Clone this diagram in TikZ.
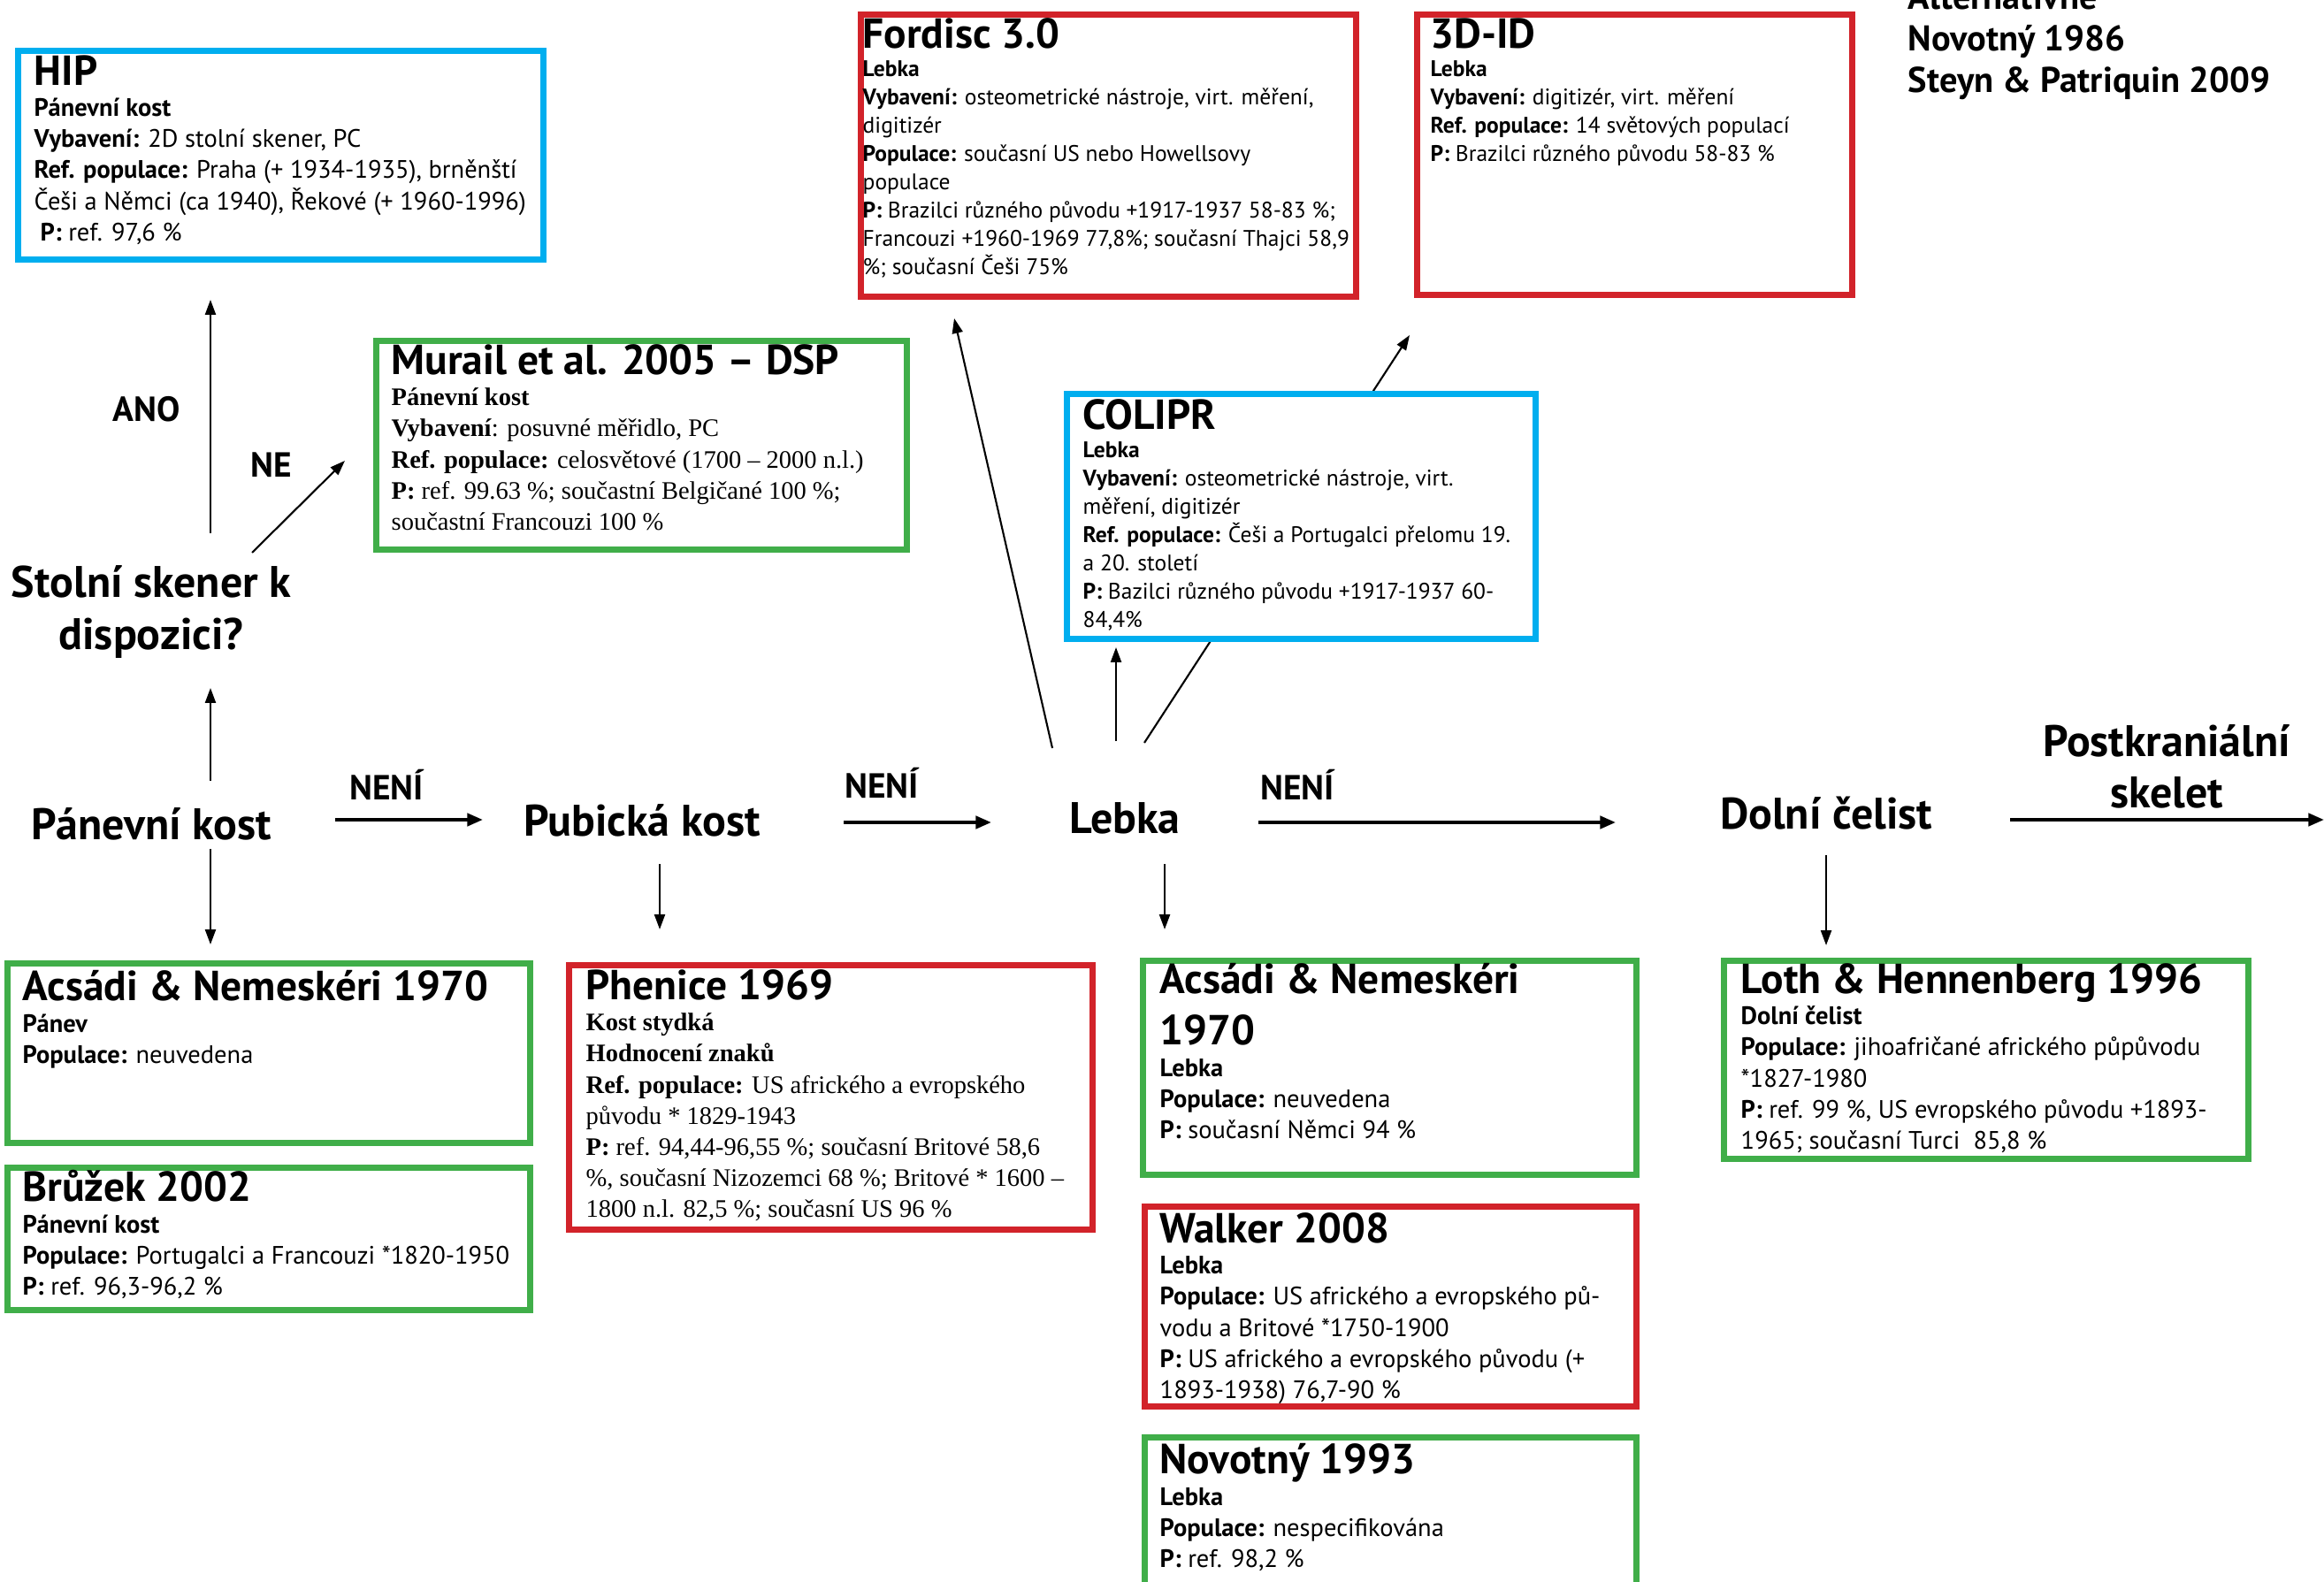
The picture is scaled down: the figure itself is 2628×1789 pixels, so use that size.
\documentclass[tikz,border=0pt]{standalone}
\usepackage{fontspec}
\setmainfont{PT Sans}
\newfontfamily\tms{Liberation Serif}
\usetikzlibrary{arrows.meta}

\definecolor{boxblue}{RGB}{0,174,239}
\definecolor{boxred}{RGB}{210,35,42}
\definecolor{boxgreen}{RGB}{64,174,73}

\newcommand{\ttl}{\normalfont\fontsize{13.5}{17}\selectfont\bfseries}
\newcommand{\bd}{\fontsize{8.1}{10}\selectfont}
\newcommand{\bds}{\fontsize{7.25}{9.1}\selectfont}
\newcommand{\bdt}{\tms\fontsize{8.1}{10}\selectfont}
\newcommand{\lbl}{\fontsize{14.2}{16.7}\selectfont\bfseries}
\newcommand{\yn}{\fontsize{11.2}{13}\selectfont\bfseries}

\tikzset{
  frame/.style={line width=2pt, fill=white, inner sep=0pt, anchor=north west},
  bluebox/.style={frame, draw=boxblue},
  redbox/.style={frame, draw=boxred},
  greenbox/.style={frame, draw=boxgreen},
  boxtext/.style={anchor=north west, inner sep=0pt, align=left, font=\bd},
  arr/.style={-{Triangle[length=4.8pt,width=3.4pt]}, line width=0.6pt},
  harr/.style={-{Triangle[length=5pt,width=4pt]}, line width=1.1pt},
}

\begin{document}
\begin{tikzpicture}[x=0.01cm,y=-0.01cm]
\useasboundingbox (0,0) rectangle (2628,1789);

% arrow ends
\coordinate (ano1) at (238,603); \coordinate (ano2) at (238,339);
\coordinate (ne1) at (285,625); \coordinate (ne2) at (390,521);
\coordinate (pu1) at (238,883); \coordinate (pu2) at (238,778);
\coordinate (pd1) at (238,960); \coordinate (pd2) at (238,1068);
\coordinate (h1) at (379,927); \coordinate (h2) at (546,927);
\coordinate (bd1) at (746,977); \coordinate (bd2) at (746,1051);
\coordinate (h3) at (954,930); \coordinate (h4) at (1121,930);
\coordinate (f1) at (1190,846); \coordinate (f2) at (1079,360);
\coordinate (c1) at (1262,838); \coordinate (c2) at (1262,732);
\coordinate (t1) at (1294,840); \coordinate (t2) at (1594,379);
\coordinate (ld1) at (1317,977); \coordinate (ld2) at (1317,1051);
\coordinate (h5) at (1423,930); \coordinate (h6) at (1827,930);
\coordinate (dd1) at (2065,967); \coordinate (dd2) at (2065,1069);
\coordinate (h7) at (2273,927); \coordinate (h8) at (2628,927);

\draw[arr] (ano1) -- (ano2);
\draw[arr] (ne1) -- (ne2);
\draw[arr] (pu1) -- (pu2);
\draw[arr] (pd1) -- (pd2);
\draw[arr] (bd1) -- (bd2);
\draw[arr] (f1) -- (f2);
\draw[arr] (c1) -- (c2);
\draw[arr] (t1) -- (t2);
\draw[arr] (ld1) -- (ld2);
\draw[arr] (dd1) -- (dd2);
\draw[harr] (h1) -- (h2);
\draw[harr] (h3) -- (h4);
\draw[harr] (h5) -- (h6);
\draw[harr] (h7) -- (h8);

% boxes
\node[bluebox, minimum width=5.94cm, minimum height=2.36cm] (hip) at (17,54) {};
\node[greenbox, minimum width=6.00cm, minimum height=2.36cm] (murail) at (422,382) {};
\node[redbox, minimum width=5.60cm, minimum height=3.19cm] (fordisc) at (970,13) {};
\node[redbox, minimum width=4.92cm, minimum height=3.17cm] (tdid) at (1599,13) {};
\node[bluebox, minimum width=5.30cm, minimum height=2.77cm] (colipr) at (1203,442) {};
\node[greenbox, minimum width=5.91cm, minimum height=2.03cm] (acsadiP) at (5,1086) {};
\node[greenbox, minimum width=5.91cm, minimum height=1.61cm] (bruzek) at (5,1317) {};
\node[redbox, minimum width=5.92cm, minimum height=2.99cm] (phenice) at (640,1088) {};
\node[greenbox, minimum width=5.58cm, minimum height=2.42cm] (acsadiL) at (1289,1083) {};
\node[redbox, minimum width=5.56cm, minimum height=2.26cm] (walker) at (1291,1361) {};
\node[greenbox, minimum width=5.56cm, minimum height=1.90cm] (novotny) at (1291,1622) {};
\node[greenbox, minimum width=5.93cm, minimum height=2.24cm] (loth) at (1946,1083) {};

% box texts
\node[boxtext] (hipT) at (38,62) {{\ttl HIP}\\
\textbf{Pánevní kost}\\
\textbf{Vybavení:} 2D stolní skener, PC\\
\textbf{Ref. populace:} Praha (+ 1934-1935), brněnští\\
Češi a Němci (ca 1940), Řekové (+ 1960-1996)\\
\hspace{2pt}\textbf{P:} ref. 97,6 \%};
\node[boxtext, font=\bdt] (murailT) at (442,389) {{\ttl Murail et al. 2005 – DSP}\\
\textbf{Pánevní kost}\\
\textbf{Vybavení}: posuvné měřidlo, PC\\
\textbf{Ref. populace:} celosvětové (1700 – 2000 n.l.)\\
\textbf{P:} ref. 99.63 \%; součastní Belgičané 100 \%;\\
součastní Francouzi 100 \%};
\node[boxtext, font=\bds] (fordiscT) at (975,20) {{\ttl Fordisc 3.0}\\
\textbf{Lebka}\\
\textbf{Vybavení:} osteometrické nástroje, virt. měření,\\
digitizér\\
\textbf{Populace:} současní US nebo Howellsovy\\
populace\\
\textbf{P:} Brazilci různého původu +1917-1937 58-83 \%;\\
Francouzi +1960-1969 77,8\%; současní Thajci 58,9\\
\%; současní Češi 75\%};
\node[boxtext, font=\bds] (tdidT) at (1617,20) {{\ttl 3D-ID}\\
\textbf{Lebka}\\
\textbf{Vybavení:} digitizér, virt. měření\\
\textbf{Ref. populace:} 14 světových populací\\
\textbf{P:} Brazilci různého původu 58-83 \%};
\node[boxtext, font=\bds] (coliprT) at (1224,451) {{\ttl COLIPR}\\
\textbf{Lebka}\\
\textbf{Vybavení:} osteometrické nástroje, virt.\\
měření, digitizér\\
\textbf{Ref. populace:} Češi a Portugalci přelomu 19.\\
a 20. století\\
\textbf{P:} Bazilci různého původu +1917-1937 60-\\
84,4\%};
\node[boxtext] (acsadiPT) at (25,1097) {{\ttl Acsádi \& Nemeskéri 1970}\\
\textbf{Pánev}\\
\textbf{Populace:} neuvedena};
\node[boxtext] (bruzekT) at (25,1323) {{\ttl Brůžek 2002}\\
\textbf{Pánevní kost}\\
\textbf{Populace:} Portugalci a Francouzi *1820-1950\\
\textbf{P:} ref. 96,3-96,2 \%};
\node[boxtext, font=\bdt] (pheniceT) at (662,1096) {{\ttl Phenice 1969}\\
\textbf{Kost stydká}\\
\textbf{Hodnocení znaků}\\
\textbf{Ref. populace:} US afrického a evropského\\
původu * 1829-1943\\
\textbf{P:} ref. 94,44-96,55 \%; současní Britové 58,6\\
\%, současní Nizozemci 68 \%; Britové * 1600 –\\
1800 n.l. 82,5 \%; současní US 96 \%};
\node[boxtext] (acsadiLT) at (1311,1089) {{\ttl Acsádi \& Nemeskéri}\\[6.5pt]
{\ttl 1970}\\
\textbf{Lebka}\\
\textbf{Populace:} neuvedena\\
\textbf{P:} současní Němci 94 \%};
\node[boxtext] (walkerT) at (1311,1371) {{\ttl Walker 2008}\\
\textbf{Lebka}\\
\textbf{Populace:} US afrického a evropského pů-\\
vodu a Britové *1750-1900\\
\textbf{P:} US afrického a evropského původu (+\\
1893-1938) 76,7-90 \%};
\node[boxtext] (novotnyT) at (1311,1632) {{\ttl Novotný 1993}\\
\textbf{Lebka}\\
\textbf{Populace:} nespecifikována\\
\textbf{P:} ref. 98,2 \%};
\node[boxtext] (lothT) at (1968,1089) {{\ttl Loth \& Hennenberg 1996}\\
\textbf{Dolní čelist}\\
\textbf{Populace:} jihoafričané afrického půpůvodu\\
*1827-1980\\
\textbf{P:} ref. 99 \%, US evropského původu +1893-\\
1965; současní Turci\ \ 85,8 \%};

% labels
\node[font=\lbl, align=center] (skener) at (171,692) {Stolní skener k\\dispozici?};
\node[font=\lbl] (panev) at (171,932) {Pánevní kost};
\node[font=\lbl] (pubis) at (726,928) {Pubická kost};
\node[font=\lbl] (lebka) at (1272,925) {Lebka};
\node[font=\lbl] (celist) at (2065,920) {Dolní čelist};
\node[font=\lbl, align=center] (postkr) at (2450,867) {Postkraniální\\skelet};
\node[font=\yn] (ano) at (166,463) {ANO};
\node[font=\yn] (ne) at (307,526) {NE};
\node[font=\yn] (neniA) at (437,887) {NENÍ};
\node[font=\yn] (neniB) at (997,885) {NENÍ};
\node[font=\yn] (neniC) at (1467,887) {NENÍ};
\node[font=\fontsize{11.5}{13.4}\selectfont\bfseries, align=left, anchor=west, inner sep=0pt] (altern) at (2157,47) {Alternativně\\Novotný 1986\\Steyn \& Patriquin 2009};
\end{tikzpicture}
\end{document}
